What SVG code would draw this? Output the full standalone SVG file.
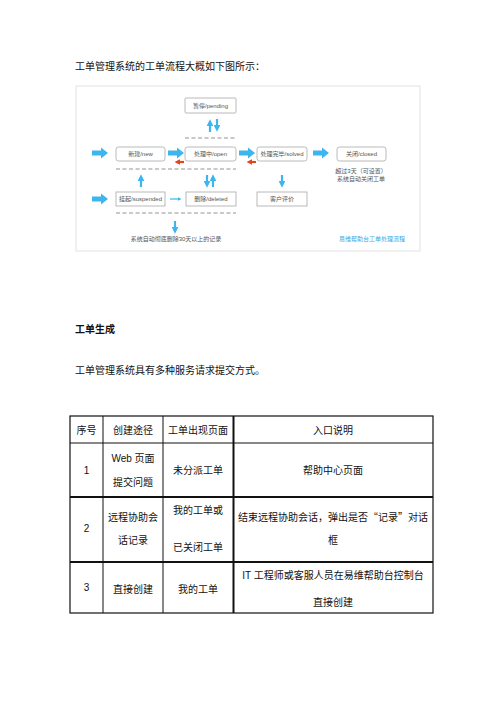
<svg xmlns="http://www.w3.org/2000/svg" xmlns:xlink="http://www.w3.org/1999/xlink" width="496" height="702" viewBox="0 0 496 702">
<style>
.body{font-family:"Liberation Serif","Noto Sans CJK SC",serif;font-size:10px;fill:#111}
.sans{font-family:"Liberation Sans","Noto Sans CJK SC",sans-serif;font-size:10px;fill:#111}
.fc{font-family:"Liberation Sans","Noto Sans CJK SC",sans-serif;font-size:6px;fill:#555;text-anchor:middle}
.box{fill:#fff;stroke:#a8a8a8;stroke-width:0.8}
.dash{stroke:#888;stroke-width:0.9;stroke-dasharray:4,2.5;fill:none}
.blue{fill:#3db5ef}
.bl{stroke:#3db5ef;stroke-width:2.2;fill:none}
.red{stroke:#e2461c;stroke-width:2.2;fill:none}
.tl{stroke:#111;stroke-width:1}
.tk{stroke:#111;stroke-width:2}
.tc{text-anchor:middle}
</style>
<defs>
<path id="ba" d="M0,-2.6 H9 V-5.5 L16,0 L9,5.5 V2.6 H0 Z"/>
<marker id="ah" viewBox="0 0 10 10" refX="6" refY="5" markerWidth="3" markerHeight="3" orient="auto"><path d="M0,0 L10,5 L0,10 Z" fill="#3db5ef"/></marker>
<marker id="ahr" viewBox="0 0 10 10" refX="6" refY="5" markerWidth="2.6" markerHeight="2.6" orient="auto"><path d="M0,0 L10,5 L0,10 Z" fill="#e2461c"/></marker>
</defs>
<rect width="496" height="702" fill="#fff"/>
<text class="body" x="75" y="70">工单管理系统的工单流程大概如下图所示：</text>

<rect x="76" y="86" width="344" height="165" fill="#fff" stroke="#e2e2e2" stroke-width="1"/>

<g id="connectors">
<use xlink:href="#ba" class="blue" x="92" y="153"/>
<use xlink:href="#ba" class="blue" x="168" y="153"/>
<use xlink:href="#ba" class="blue" x="239" y="153"/>
<use xlink:href="#ba" class="blue" x="313" y="153"/>
<use xlink:href="#ba" class="blue" x="92" y="199"/>
<path class="red" d="M184,162 H177" marker-end="url(#ahr)"/>
<path class="red" d="M256,162 H249" marker-end="url(#ahr)"/>
<path class="bl" d="M210,132 V122" marker-end="url(#ah)"/>
<path class="bl" d="M217,119 V129" marker-end="url(#ah)"/>
<path class="bl" d="M141,187 V177" marker-end="url(#ah)"/>
<path class="bl" d="M207,175 V185" marker-end="url(#ah)"/>
<path class="bl" d="M213,187 V177" marker-end="url(#ah)"/>
<path class="bl" d="M282,175 V185" marker-end="url(#ah)"/>
<path class="bl" d="M175,221 V231" marker-end="url(#ah)"/>
<path class="bl" style="stroke-width:1.2" d="M170,199 H180" marker-end="url(#ah)"/>
<line class="dash" x1="185" y1="138" x2="236" y2="138"/>
<line class="dash" x1="116" y1="169" x2="236" y2="169"/>
<line class="dash" x1="116" y1="213" x2="236" y2="213"/>
</g>

<g id="pending"><rect class="box" x="185" y="98" width="51" height="15" rx="1"/><text class="fc" x="210.5" y="107.8">暂停/pending</text></g>
<g id="new"><rect class="box" x="116" y="147" width="49" height="14" rx="2.5"/><text class="fc" x="140.5" y="156.3">新建/new</text></g>
<g id="open"><rect class="box" x="185" y="147" width="51" height="14" rx="2.5"/><text class="fc" x="210.5" y="156.3">处理中/open</text></g>
<g id="solved"><rect class="box" x="257" y="147" width="50" height="14" rx="2.5"/><text class="fc" x="282" y="156.3">处理完毕/solved</text></g>
<g id="closed"><rect class="box" x="337" y="147" width="49" height="14" rx="2.5"/><text class="fc" x="361.5" y="156.3">关闭/closed</text></g>
<g id="suspended"><rect class="box" x="116" y="192" width="49" height="14"/><text class="fc" x="140.5" y="201.3">挂起/suspended</text></g>
<g id="deleted"><rect class="box" x="186" y="192" width="50" height="14"/><text class="fc" x="211" y="201.3">删除/deleted</text></g>
<g id="review"><rect class="box" x="257" y="192" width="50" height="14"/><text class="fc" x="282" y="201.3">客户评价</text></g>
<g id="notes">
<text class="fc" x="361" y="173">超过3天（可设置）</text>
<text class="fc" x="361" y="181">系统自动关闭工单</text>
<text class="fc" x="176" y="241">系统自动彻底删除30天以上的记录</text>
<text class="fc" x="372" y="241" style="fill:#3aa9e6">易维帮助台工单处理流程</text>
</g>

<text class="sans" x="75" y="333" style="font-weight:bold">工单生成</text>
<text class="sans" x="75" y="374">工单管理系统具有多种服务请求提交方式。</text>

<g id="table">
<rect x="70" y="416" width="363" height="197" fill="none" stroke="#111" stroke-width="1.2"/>
<line class="tl" x1="70" y1="443" x2="433" y2="443"/>
<line class="tk" x1="70" y1="497" x2="433" y2="497"/>
<line class="tk" x1="70" y1="562" x2="433" y2="562"/>
<line class="tl" x1="103" y1="416" x2="103" y2="613"/>
<line class="tl" x1="163" y1="416" x2="163" y2="613"/>
<line class="tk" x1="233.5" y1="416" x2="233.5" y2="613"/>
<g class="sans tc">
<text x="86.5" y="434">序号</text>
<text x="133" y="434">创建途径</text>
<text x="198" y="434">工单出现页面</text>
<text x="333" y="434">入口说明</text>
<text x="86.5" y="474">1</text>
<text x="133" y="462">Web 页面</text>
<text x="133" y="486">提交问题</text>
<text x="198" y="474">未分派工单</text>
<text x="333" y="474">帮助中心页面</text>
<text x="86.5" y="532">2</text>
<text x="133" y="521">远程协助会</text>
<text x="133" y="544">话记录</text>
<text x="198" y="514">我的工单或</text>
<text x="198" y="551">已关闭工单</text>
<text x="333" y="521" style="font-family:'Noto Sans CJK SC',sans-serif">结束远程协助会话，弹出是否“记录”对话</text>
<text x="333" y="544">框</text>
<text x="86.5" y="591">3</text>
<text x="133" y="593">直接创建</text>
<text x="198" y="593">我的工单</text>
<text x="333" y="579">IT 工程师或客服人员在易维帮助台控制台</text>
<text x="333" y="606">直接创建</text>
</g>
</g>
</svg>
